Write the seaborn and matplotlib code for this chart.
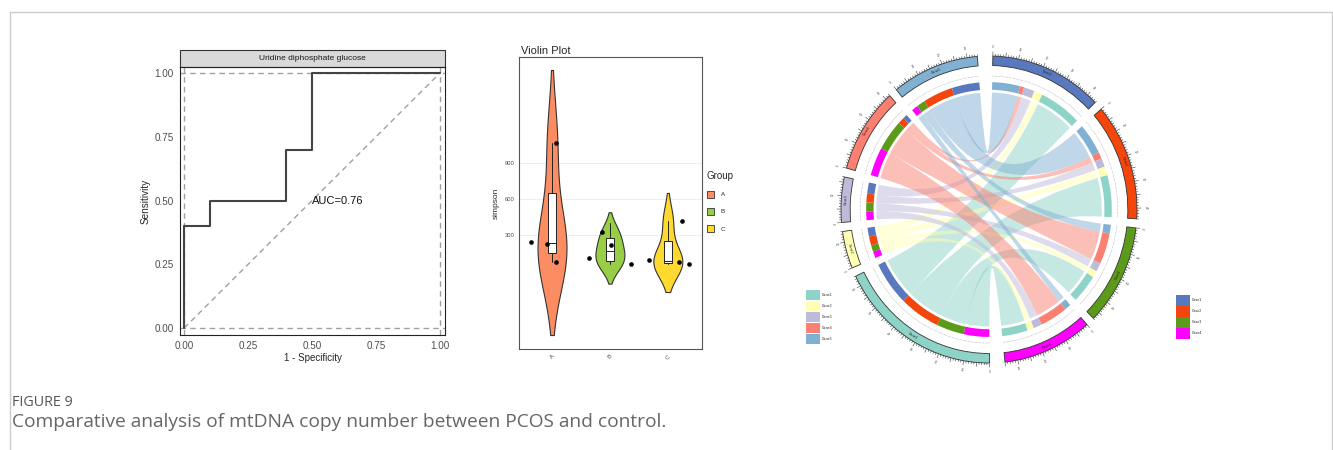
import numpy as np
import pandas as pd
import matplotlib
matplotlib.use("Agg")
import matplotlib.pyplot as plt
import seaborn as sns
from matplotlib.patches import Wedge, PathPatch, Patch, Rectangle
from matplotlib.path import Path
from matplotlib.lines import Line2D
from matplotlib.collections import LineCollection

# ---- ROC panel data ----
roc_fpr = [0.0, 0.0, 0.1, 0.1, 0.4, 0.4, 0.5, 0.5, 1.0]
roc_tpr = [0.0, 0.4, 0.4, 0.5, 0.5, 0.7, 0.7, 1.0, 1.0]
roc_title = "Uridine diphosphate glucose"
auc_label = "AUC=0.76"
roc_ticks = [0.0, 0.25, 0.5, 0.75, 1.0]
roc_ticklabels = ["0.00", "0.25", "0.50", "0.75", "1.00"]

# ---- violin panel data ----
groups = ["A", "B", "C"]
group_colors = ["#FC8D62", "#97CE45", "#FFD92F"]
simpson_A = [239, 225, 1069, 72]
simpson_B = [111, 328, 217, 56]
simpson_C = [92, 78, 419, 56]
# horizontal jitter of the points
jitter_A = [-0.37, -0.08, 0.07, 0.07]
jitter_B = [-0.36, -0.14, 0.02, 0.37]
jitter_C = [-0.32, 0.20, 0.25, 0.37]
box_whislo = [78, 58, 56]
box_q1 = [152, 86, 64]
box_med = [236, 169, 83]
box_q3 = [652, 272, 253]
box_whishi = [1064, 402, 417]
simpson_ticks = [300, 600, 900]

# ---- chord diagram data ----
gene_names = ["Gene1", "Gene2", "Gene3", "Gene4", "Gene5"]
case_names = ["Case1", "Case2", "Case3", "Case4"]
gene_colors = ["#8DD3C7", "#FFFFB3", "#BEBADA", "#FB8072", "#80B1D3"]
case_colors = ["#5A78BE", "#F4460C", "#5B9A1A", "#FF00FF"]
link_values = [[20, 19, 13, 12],
               [4, 4, 3, 3],
               [5, 4, 4, 4],
               [2, 3, 14, 13],
               [13, 14, 4, 3]]

caption_head = "FIGURE 9"
caption_text = "Comparative analysis of mtDNA copy number between PCOS and control."

sns.set_style("white")
plt.rcParams['font.family'] = ['Liberation Sans', 'DejaVu Sans']

W, H = 1333, 450
fig = plt.figure(figsize=(W / 100, H / 100), dpi=100)


def fx(px):
    return px / W


def fy(py):
    return 1 - py / H


# frame around the figure
fig.add_artist(Line2D([fx(9.5), fx(1331.5)], [fy(11.5), fy(11.5)], color='#CCCCCC', lw=1))
fig.add_artist(Line2D([fx(9.5), fx(9.5)], [fy(11.5), 0], color='#CCCCCC', lw=1))
fig.add_artist(Line2D([fx(1331.5), fx(1331.5)], [fy(11.5), 0], color='#CCCCCC', lw=1))

# ================= ROC =================
ax1 = fig.add_axes([fx(180), fy(335), fx(445) - fx(180), fy(67) - fy(335)])
ax1.plot([0, 1], [0, 1], ls=(0, (4, 3)), color='#A0A0A0', lw=1)
for v in [0, 1]:
    ax1.axhline(v, ls=(0, (4, 3)), color='#A0A0A0', lw=1)
    ax1.axvline(v, ls=(0, (4, 3)), color='#A0A0A0', lw=1)
sns.lineplot(x=roc_fpr, y=roc_tpr, sort=False, estimator=None, color='#444444', lw=1.5, ax=ax1)
ax1.text(0.5, 0.5, auc_label, ha='left', va='center', fontsize=8, color='#111111')
ax1.set_xlim(-0.016, 1.02)
ax1.set_ylim(-0.027, 1.024)
ax1.set_xticks(roc_ticks)
ax1.set_xticklabels(roc_ticklabels)
ax1.set_yticks(roc_ticks)
ax1.set_yticklabels(roc_ticklabels)
ax1.tick_params(labelsize=7.1, labelcolor='#4D4D4D', length=3, width=0.6, color='#333333', pad=1.5)
ax1.set_xlabel("1 - Specificity", fontsize=7, labelpad=1)
ax1.set_ylabel("Sensitivity", fontsize=7.2, labelpad=3)
for s in ax1.spines.values():
    s.set_color('#222222')
    s.set_linewidth(0.8)
strip_h = 17 / 268
ax1.add_patch(Rectangle((0, 1), 1, strip_h, transform=ax1.transAxes, clip_on=False,
                        fc='#D9D9D9', ec='#333333', lw=0.8))
ax1.text(0.5, 1 + strip_h / 2, roc_title, transform=ax1.transAxes, ha='center', va='center',
         fontsize=6, color='#1A1A1A')

# ================= violin =================
ax2 = fig.add_axes([fx(519), fy(349), fx(702) - fx(519), fy(57) - fy(349)])
df = pd.DataFrame({
    'group': ['A'] * len(simpson_A) + ['B'] * len(simpson_B) + ['C'] * len(simpson_C),
    'simpson': simpson_A + simpson_B + simpson_C,
})
ax2.grid(True, color='#EBEBEB', lw=0.6)
ax2.set_axisbelow(True)
sns.violinplot(data=df, x='group', y='simpson', hue='group', order=groups, hue_order=groups,
               palette=group_colors, saturation=1, cut=1.77, density_norm='width', width=0.5,
               inner=None, linewidth=0.8, linecolor='#333333', legend=False, ax=ax2)
stats = [dict(whislo=box_whislo[k], q1=box_q1[k], med=box_med[k], q3=box_q3[k],
              whishi=box_whishi[k], fliers=[]) for k in range(3)]
ax2.bxp(stats, positions=[0, 1, 2], widths=0.14, showcaps=False, patch_artist=True,
        manage_ticks=False,
        boxprops=dict(facecolor='white', edgecolor='#222222', lw=0.7),
        medianprops=dict(color='#222222', lw=0.7),
        whiskerprops=dict(color='#222222', lw=0.7))
pts_x = np.concatenate([np.array(jitter_A) + 0, np.array(jitter_B) + 1, np.array(jitter_C) + 2])
sns.scatterplot(x=pts_x, y=df['simpson'].values, color='black', s=11, linewidth=0, ax=ax2, zorder=5)
ax2.set_xlim(-0.57, 2.59)
ax2.set_ylim(-650, 1783)
ax2.set_xticks([0, 1, 2])
ax2.set_xticklabels(groups, rotation=45)
ax2.set_yticks(simpson_ticks)
ax2.tick_params(labelsize=4.2, labelcolor='#4D4D4D', length=2, width=0.5, color='#333333', pad=1.5)
ax2.set_xlabel("")
ax2.set_ylabel("simpson", fontsize=6, labelpad=3)
ax2.set_title("Violin Plot", loc='left', fontsize=8, pad=2.5, x=0.01)
for s in ax2.spines.values():
    s.set_color('#555555')
    s.set_linewidth(0.8)
leg = ax2.legend(handles=[Patch(fc=c, ec='#333333', lw=0.6) for c in group_colors], labels=groups,
                 title='Group', loc='upper left', bbox_to_anchor=(1.027, 0.61), frameon=False,
                 fontsize=4.5, title_fontsize=7, handlelength=1.2, handleheight=1.35,
                 labelspacing=1.6, handletextpad=1.0, borderpad=0, borderaxespad=0)
leg._legend_box.align = "left"

# ================= chord diagram =================
rx, ry = 148, 153.5
cx, cy = 989, 209.5
ax3 = fig.add_axes([fx(cx - 1.1 * rx), fy(cy + 1.1 * ry), 2.2 * rx / W, 2.2 * ry / H])
ax3.set_xlim(-1.1, 1.1)
ax3.set_ylim(-1.1, 1.1)
ax3.axis('off')

links = np.array(link_values, dtype=float)
case_tot = links.sum(axis=0)
gene_tot = links.sum(axis=1)
gap_small, gap_big = 3.4, 6.0
unit = (360 - 7 * gap_small - 2 * gap_big) / (2 * links.sum())

theta = 1.5
sectors = []  # (name, start, end, color)
for j in range(len(case_names)):
    sectors.append((case_names[j], theta, theta + case_tot[j] * unit, case_colors[j]))
    theta += case_tot[j] * unit + (gap_small if j < len(case_names) - 1 else gap_big)
for i in range(len(gene_names)):
    sectors.append((gene_names[i], theta, theta + gene_tot[i] * unit, gene_colors[i]))
    theta += gene_tot[i] * unit + gap_small

case_seg, gene_seg = {}, {}
for j in range(len(case_names)):
    t = sectors[j][1]
    for i in reversed(range(len(gene_names))):
        w = links[i, j] * unit
        case_seg[(i, j)] = (t, t + w)
        t += w
for i in range(len(gene_names)):
    t = sectors[len(case_names) + i][1]
    for j in reversed(range(len(case_names))):
        w = links[i, j] * unit
        gene_seg[(i, j)] = (t, t + w)
        t += w


def xy(th, r):
    t = np.radians(th)
    return r * np.sin(t), r * np.cos(t)


def arc_pts(t1, t2, r, n=40):
    ts = np.linspace(t1, t2, n)
    x, y = xy(ts, r)
    return list(zip(x, y))


def wedge(t1, t2, r_out, width, **kw):
    return Wedge((0, 0), r_out, 90 - t2, 90 - t1, width=width, **kw)


# chords
R = 0.762
for i in range(len(gene_names)):
    for j in range(len(case_names)):
        a1, a2 = gene_seg[(i, j)]
        b1, b2 = case_seg[(i, j)]
        pa = arc_pts(a1, a2, R)
        pb = arc_pts(b1, b2, R)
        verts = pa + [(0, 0), pb[0]] + pb[1:] + [(0, 0), pa[0]]
        codes = ([Path.MOVETO] + [Path.LINETO] * (len(pa) - 1) + [Path.CURVE3, Path.CURVE3]
                 + [Path.LINETO] * (len(pb) - 1) + [Path.CURVE3, Path.CURVE3])
        ax3.add_patch(PathPatch(Path(verts, codes), fc=gene_colors[i], ec='none', alpha=0.5))

# inner ring
for (i, j), (t1, t2) in gene_seg.items():
    ax3.add_patch(wedge(t1, t2, 0.83, 0.05, fc=case_colors[j], ec='none'))
for (i, j), (t1, t2) in case_seg.items():
    ax3.add_patch(wedge(t1, t2, 0.83, 0.05, fc=gene_colors[i], ec='none'))

# outer sectors, axis ticks, dotted track
tick_lines = []
for k, (name, t1, t2, col) in enumerate(sectors):
    ax3.add_patch(wedge(t1, t2, 1.0, 0.062, fc=col, ec='#333333', lw=0.6))
    dx, dy = zip(*arc_pts(t1, t2, 0.87, 80))
    ax3.plot(dx, dy, ls=(0, (1, 1.5)), color='#888888', lw=0.4)
    total = int(round((t2 - t1) / unit))
    for v in range(total + 1):
        th = t1 + v * unit
        ln = 0.028 if v % 5 == 0 else 0.014
        tick_lines.append([xy(th, 1.0), xy(th, 1.0 + ln)])
        if v % 10 == 0:
            lx, ly = xy(th, 1.06)
            rot = -th if (th < 90 or th > 270) else 180 - th
            ax3.text(lx, ly, str(v), fontsize=2.2, color='#444444', ha='center', va='center',
                     rotation=rot)
    mid = (t1 + t2) / 2
    lx, ly = xy(mid, 0.969)
    rot = -mid if (mid < 90 or mid > 270) else 180 - mid
    ax3.text(lx, ly, name, fontsize=2.5, color='#222222', ha='center', va='center', rotation=rot)
ax3.add_collection(LineCollection(tick_lines, colors='#333333', linewidths=0.4))

# chord legends
fig.legend(handles=[Patch(fc=c, ec='none') for c in gene_colors], labels=gene_names,
           loc='upper left', bbox_to_anchor=(fx(806), fy(290)), frameon=False, fontsize=2.5,
           handlelength=4.0, handleheight=4.05, labelspacing=0.3, handletextpad=0.6,
           borderpad=0, borderaxespad=0)
fig.legend(handles=[Patch(fc=c, ec='none') for c in case_colors], labels=case_names,
           loc='upper left', bbox_to_anchor=(fx(1176), fy(295)), frameon=False, fontsize=2.5,
           handlelength=4.0, handleheight=4.3, labelspacing=0.15, handletextpad=0.6,
           borderpad=0, borderaxespad=0)

# caption
fig.text(fx(12), fy(402), caption_head, fontsize=10.3, color='#555555', va='center',
         family=['Open Sans', 'DejaVu Sans'])
fig.text(fx(12), fy(422), caption_text, fontsize=13.8, color='#666666', va='center',
         family=['Open Sans', 'DejaVu Sans'])

fig.savefig("out.png", dpi=100)
